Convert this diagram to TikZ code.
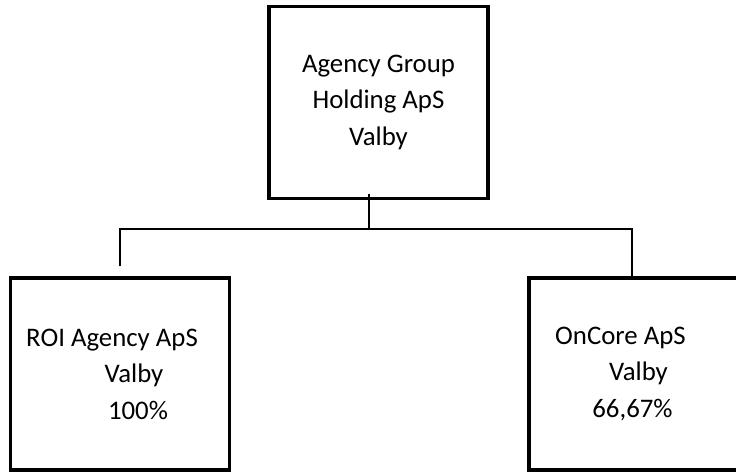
\documentclass[tikz,border=0pt]{standalone}
\usepackage{fontspec}
\setmainfont{Carlito}
\begin{document}
\begin{tikzpicture}[x=0.5pt,y=-0.5pt,
  firm/.style={draw,line width=1.6pt,inner sep=0pt,align=center,
    minimum width=109.5pt,minimum height=96pt,
    font=\fontsize{13.4}{18.25}\selectfont},
  link/.style={line width=1pt}]
 \clip (0,0) rectangle (736,473);

 \node[firm] (hold) at (378.5,102.25) {Agency Group\\Holding ApS\\Valby};
 \node[firm] (roi) at (120,374) {ROI Agency ApS\hspace*{8pt}\\\hspace*{14pt}Valby\\\hspace*{18pt}100\%};
 \node[firm] (oncore) at (638.5,374) {OnCore ApS\hspace*{18pt}\\Valby\hspace*{6pt}\\66,67\%\hspace*{6pt}};

 \coordinate (split) at (369,229);
 \draw[link] ([yshift=3pt]hold.south -| split) -- (split);
 \draw[link] ([yshift=5pt]roi.north) |- (split) -| ([xshift=-3.25pt]oncore.north);
\end{tikzpicture}
\end{document}
